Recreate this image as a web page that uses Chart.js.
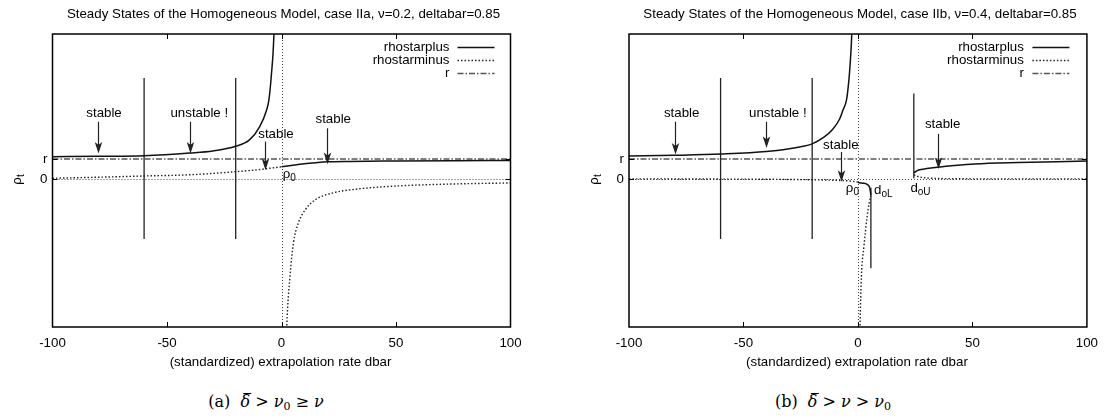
<!DOCTYPE html>
<html lang="en">
<head>
<meta charset="UTF-8">
<title>Steady States of the Homogeneous Model</title>
<script src="https://cdn.jsdelivr.net/npm/chart.js"></script>
<style>
  body {
    margin: 0;
    width: 1106px;
    height: 419px;
    position: relative;
    overflow: hidden;
    background: #fff;
  }
  canvas { position: absolute; top: 0; }
  #chartA { left: 0; }
  #chartB { left: 553px; }
  .caption {
    position: absolute;
    top: 392px;
    line-height: 20px;
    font-family: 'DejaVu Serif', 'Liberation Serif', serif;
    font-size: 16px;
    white-space: nowrap;
    transform: translateX(-50%);
    color: #000;
  }
  .caption sub { font-size: 11px; line-height: 0; vertical-align: -3px; }
  .bar { position: relative; display: inline-block; }
  .bar::after {
    content: '';
    position: absolute;
    left: 3px; right: -1px; top: 1px;
    border-top: 1px solid #000;
  }
</style>
</head>
<body>
  <canvas id="chartA" width="553" height="380"></canvas>
  <canvas id="chartB" width="553" height="380"></canvas>
  <div class="caption" style="left:266px">(a)&nbsp; <i class="bar">δ</i> &gt; <i>ν</i><sub>0</sub> ≥ <i>ν</i></div>
  <div class="caption" style="left:833px">(b)&nbsp; <i class="bar">δ</i> &gt; <i>ν</i> &gt; <i>ν</i><sub>0</sub></div>

<script>
// ---- shared axis data ----
const xTickStep = 50;
const xRange = [-100, 100];
const yRange = [-7.2, 7.1];
const yTickValues = [0, 1];
const yTickLabels = ['0', 'r'];
const legendLabels = ['rhostarplus', 'rhostarminus', 'r'];
const xTitle = '(standardized) extrapolation rate dbar';
const rLine_d = [-100, 100];
const rLine_v = [1, 1];

// ---- case IIa (left) ----
const titleA = 'Steady States of the Homogeneous Model, case IIa, ν=0.2, deltabar=0.85';
const a_plus1_d = [-100, -80, -60, -40, -30, -20, -14, -9.5, -6.5, -5.5, -4.5, -3.3, -3.0];
const a_plus1_v = [1.11, 1.13, 1.16, 1.29, 1.39, 1.62, 1.93, 2.58, 3.39, 3.88, 5.0, 7.1, 8.5];
const a_plus2_d = [0, 5, 10, 15, 20, 30, 50, 75, 100];
const a_plus2_v = [0.62, 0.70, 0.77, 0.82, 0.86, 0.88, 0.90, 0.92, 0.93];
const a_minus1_d = [-100, -80, -60, -40, -20, -10, -5, 0];
const a_minus1_v = [0.06, 0.11, 0.17, 0.23, 0.38, 0.48, 0.55, 0.62];
const a_minus2_d = [2.0, 2.3, 3.7, 5.2, 7.3, 10.3, 14.6, 21.9, 32, 50, 75, 100];
const a_minus2_v = [-8.5, -7.2, -4.74, -3.11, -2.14, -1.49, -1.0, -0.67, -0.48, -0.32, -0.22, -0.17];
const a_mark_d = [-60, -20];
const a_mark_top = [4.95, 4.95];
const a_mark_bot = [-2.9, -2.9];
const a_note_text = ['stable', 'unstable !', 'stable', 'stable'];
const a_note_d = [-77.5, -35.9, -2.4, 22.6];
const a_note_v = [3.24, 3.24, 2.2, 2.92];
const a_arrow_d = [-80, -40, -7.2, 19.8];
const a_arrow_from = [2.82, 2.82, 1.85, 2.5];
const a_arrow_to = [1.36, 1.36, 0.55, 0.84];
const a_sub_base = ['ρ'];
const a_sub_sub = ['0'];
const a_sub_d = [0.5];
const a_sub_v = [0.27];

// ---- case IIb (right) ----
const titleB = 'Steady States of the Homogeneous Model, case IIb, ν=0.4, deltabar=0.85';
const b_plus1_d = [-100, -80, -60, -40, -30, -25, -20, -15, -11, -8, -6.5, -5, -4, -3.5, -2.7, -2.4];
const b_plus1_v = [1.14, 1.18, 1.24, 1.36, 1.5, 1.6, 1.74, 2.05, 2.45, 2.95, 3.4, 3.88, 4.8, 5.5, 7.1, 8.5];
const b_plus2_d = [0, 2, 4, 5.2, 5.65];
const b_plus2_v = [-0.15, -0.18, -0.24, -0.43, -0.76];
const b_plus3_d = [24.4, 26.5, 30, 35, 42, 51, 70, 87, 100];
const b_plus3_v = [0.33, 0.46, 0.53, 0.6, 0.68, 0.76, 0.83, 0.87, 0.9];
const b_minus1_d = [-100, -60, -30, -10, -3, 0];
const b_minus1_v = [0.03, 0.02, 0.0, -0.04, -0.08, -0.13];
const b_minus2_d = [0.7, 0.9, 1.5, 2.6, 4.0, 5.0, 5.6];
const b_minus2_v = [-8.5, -7.2, -4.74, -3.28, -1.81, -1.1, -0.8];
const b_minus3_d = [24.4, 26, 28, 32, 40, 60, 100];
const b_minus3_v = [0.22, 0.15, 0.1, 0.06, 0.04, 0.03, 0.03];
const b_mark_d = [-60, -20, 5.65, 24.4];
const b_mark_top = [4.95, 4.95, -0.4, 4.2];
const b_mark_bot = [-2.9, -2.9, -4.33, 0.06];
const b_note_text = ['stable', 'unstable !', 'stable', 'stable'];
const b_note_d = [-77, -35, -7.5, 37];
const b_note_v = [3.23, 3.23, 1.68, 2.69];
const b_arrow_d = [-80, -40, -7.5, 35];
const b_arrow_from = [2.82, 2.82, 1.34, 2.22];
const b_arrow_to = [1.31, 1.63, -0.02, 0.6];
const b_sub_base = ['ρ', 'd', 'd'];
const b_sub_sub = ['0', 'oL', 'oU'];
const b_sub_d = [-5.3, 7, 22.9];
const b_sub_v = [-0.43, -0.51, -0.43];

// ---- drawing ----
const FONT = '13.3px "Liberation Sans", Arial, sans-serif';
const SUBFONT = '10px "Liberation Sans", Arial, sans-serif';

const seriesStyle = [
  { color: '#111', width: 1.5, dash: [] },              // rhostarplus
  { color: '#222', width: 1.4, dash: [1.5, 2] },        // rhostarminus
  { color: '#555', width: 1.4, dash: [6, 2, 1.5, 2] },  // r
  { color: '#222', width: 1.3, dash: [] }               // marker lines
];

function pts(d, v) { return d.map((x, i) => ({ x: x, y: v[i] })); }

function ds(series, data) {
  const s = seriesStyle[series];
  return {
    series: series, data: data,
    borderColor: s.color, borderWidth: s.width, borderDash: s.dash,
    pointRadius: 0, fill: false,
    cubicInterpolationMode: series === 3 ? 'default' : 'monotone',
    tension: 0
  };
}

function subText(ctx, x, y, base, sub, align) {
  ctx.font = FONT;
  const bw = ctx.measureText(base).width;
  ctx.font = SUBFONT;
  const sw = ctx.measureText(sub).width;
  const sx = align === 'center' ? x - (bw + sw) / 2 : x;
  ctx.textAlign = 'left';
  ctx.textBaseline = 'middle';
  ctx.font = FONT;
  ctx.fillText(base, sx, y);
  ctx.font = SUBFONT;
  ctx.fillText(sub, sx + bw, y + 4);
}

const overlay = {
  id: 'overlay',
  beforeDatasetsDraw(chart) {
    const { ctx, chartArea: a, scales: { x, y } } = chart;
    const x0 = Math.round(x.getPixelForValue(0)) + 0.5;
    const y0 = Math.round(y.getPixelForValue(0)) + 0.5;
    ctx.save();
    ctx.strokeStyle = '#444';
    ctx.lineWidth = 1;
    ctx.setLineDash([1, 2]);
    ctx.beginPath();
    ctx.moveTo(a.left, y0); ctx.lineTo(a.right, y0);
    ctx.moveTo(x0, a.top); ctx.lineTo(x0, a.bottom);
    ctx.stroke();
    ctx.restore();
  },
  afterDatasetsDraw(chart, args, o) {
    const { ctx, chartArea: a, scales: { x, y } } = chart;
    ctx.save();
    ctx.fillStyle = '#000';

    // frame + inner tick marks
    ctx.strokeStyle = '#000';
    ctx.lineWidth = 1.5;
    ctx.strokeRect(a.left, a.top, a.right - a.left, a.bottom - a.top);
    ctx.lineWidth = 1;
    ctx.beginPath();
    x.ticks.forEach(t => {
      if (t.value <= xRange[0] || t.value >= xRange[1]) return;
      const px = Math.round(x.getPixelForValue(t.value)) + 0.5;
      ctx.moveTo(px, a.bottom); ctx.lineTo(px, a.bottom - 5);
      ctx.moveTo(px, a.top); ctx.lineTo(px, a.top + 5);
    });
    yTickValues.forEach(v => {
      const py = Math.round(y.getPixelForValue(v)) + 0.5;
      ctx.moveTo(a.left, py); ctx.lineTo(a.left + 5, py);
      ctx.moveTo(a.right, py); ctx.lineTo(a.right - 5, py);
    });
    ctx.stroke();

    // titles
    ctx.font = FONT;
    ctx.textAlign = 'center';
    ctx.textBaseline = 'middle';
    ctx.fillText(o.title, (a.left + a.right) / 2 + 2, 14);
    ctx.fillText(xTitle, (a.left + a.right) / 2 - 1, 362);
    ctx.save();
    ctx.translate(a.left - 35, y.getPixelForValue(0));
    ctx.rotate(-Math.PI / 2);
    subText(ctx, 0, 0, 'ρ', 't', 'center');
    ctx.restore();

    // legend
    legendLabels.forEach((lab, i) => {
      const s = seriesStyle[i];
      const ly = a.top + 13 + i * 13;
      ctx.font = FONT;
      ctx.textAlign = 'right';
      ctx.textBaseline = 'middle';
      ctx.fillText(lab, a.right - o.legendText, ly);
      ctx.strokeStyle = s.color;
      ctx.lineWidth = s.width;
      ctx.setLineDash(s.dash);
      ctx.beginPath();
      ctx.moveTo(a.right - o.legendLine[0], ly + 0.5);
      ctx.lineTo(a.right - o.legendLine[1], ly + 0.5);
      ctx.stroke();
    });
    ctx.setLineDash([]);

    // notes
    ctx.font = FONT;
    ctx.textAlign = 'center';
    ctx.textBaseline = 'middle';
    o.noteText.forEach((t, i) => {
      ctx.fillText(t, x.getPixelForValue(o.noteD[i]), y.getPixelForValue(o.noteV[i]));
    });

    // arrows
    ctx.strokeStyle = '#222';
    ctx.fillStyle = '#222';
    ctx.lineWidth = 1.2;
    o.arrowD.forEach((d, i) => {
      const px = Math.round(x.getPixelForValue(d)) + 0.5;
      const y0 = y.getPixelForValue(o.arrowFrom[i]);
      const y1 = y.getPixelForValue(o.arrowTo[i]);
      ctx.beginPath();
      ctx.moveTo(px, y0); ctx.lineTo(px, y1 - 5);
      ctx.stroke();
      ctx.beginPath();
      ctx.moveTo(px, y1);
      ctx.lineTo(px - 2.6, y1 - 8);
      ctx.lineTo(px, y1 - 6);
      ctx.lineTo(px + 2.6, y1 - 8);
      ctx.closePath();
      ctx.fill();
      ctx.stroke();
    });

    // subscripted labels
    ctx.fillStyle = '#000';
    o.subBase.forEach((b, i) => {
      subText(ctx, x.getPixelForValue(o.subD[i]), y.getPixelForValue(o.subV[i]), b, o.subSub[i], 'left');
    });
    ctx.restore();
  }
};

function makeChart(id, c) {
  const datasets = [];
  c.plus.forEach(p => datasets.push(ds(0, pts(p[0], p[1]))));
  c.minus.forEach(p => datasets.push(ds(1, pts(p[0], p[1]))));
  datasets.push(ds(2, pts(rLine_d, rLine_v)));
  c.markD.forEach((d, i) => datasets.push(ds(3, [{ x: d, y: c.markTop[i] }, { x: d, y: c.markBot[i] }])));

  return new Chart(document.getElementById(id), {
    type: 'line',
    data: { datasets: datasets },
    plugins: [overlay],
    options: {
      responsive: false,
      animation: false,
      devicePixelRatio: 1,
      layout: { padding: { left: 0, right: c.padRight, top: 34, bottom: 0 } },
      plugins: {
        legend: { display: false },
        tooltip: { enabled: false },
        overlay: {
          title: c.title,
          legendText: c.legendText,
          legendLine: c.legendLine,
          noteText: c.noteText, noteD: c.noteD, noteV: c.noteV,
          arrowD: c.arrowD, arrowFrom: c.arrowFrom, arrowTo: c.arrowTo,
          subBase: c.subBase, subSub: c.subSub, subD: c.subD, subV: c.subV
        }
      },
      scales: {
        x: {
          type: 'linear',
          min: xRange[0], max: xRange[1],
          grid: { display: false, drawTicks: false },
          border: { display: false },
          ticks: {
            stepSize: xTickStep, padding: 8, maxRotation: 0,
            color: '#000', font: { family: '"Liberation Sans", Arial, sans-serif', size: 13.3 }
          },
          afterFit(s) { s.height = 53; }
        },
        y: {
          type: 'linear',
          min: yRange[0], max: yRange[1],
          grid: { display: false, drawTicks: false },
          border: { display: false },
          afterBuildTicks(s) { s.ticks = yTickValues.map(v => ({ value: v })); },
          ticks: {
            padding: 5,
            color: '#000', font: { family: '"Liberation Sans", Arial, sans-serif', size: 13.3 },
            callback: v => yTickLabels[yTickValues.indexOf(v)]
          },
          afterFit(s) { s.width = c.plotLeft; }
        }
      }
    }
  });
}

makeChart('chartA', {
  title: titleA, plotLeft: 52.5, padRight: 42.5,
  legendText: 61, legendLine: [53, 16],
  plus: [[a_plus1_d, a_plus1_v], [a_plus2_d, a_plus2_v]],
  minus: [[a_minus1_d, a_minus1_v], [a_minus2_d, a_minus2_v]],
  markD: a_mark_d, markTop: a_mark_top, markBot: a_mark_bot,
  noteText: a_note_text, noteD: a_note_d, noteV: a_note_v,
  arrowD: a_arrow_d, arrowFrom: a_arrow_from, arrowTo: a_arrow_to,
  subBase: a_sub_base, subSub: a_sub_sub, subD: a_sub_d, subV: a_sub_v
});

makeChart('chartB', {
  title: titleB, plotLeft: 76, padRight: 17,
  legendText: 63, legendLine: [54.5, 17.5],
  plus: [[b_plus1_d, b_plus1_v], [b_plus2_d, b_plus2_v], [b_plus3_d, b_plus3_v]],
  minus: [[b_minus1_d, b_minus1_v], [b_minus2_d, b_minus2_v], [b_minus3_d, b_minus3_v]],
  markD: b_mark_d, markTop: b_mark_top, markBot: b_mark_bot,
  noteText: b_note_text, noteD: b_note_d, noteV: b_note_v,
  arrowD: b_arrow_d, arrowFrom: b_arrow_from, arrowTo: b_arrow_to,
  subBase: b_sub_base, subSub: b_sub_sub, subD: b_sub_d, subV: b_sub_v
});
</script>
</body>
</html>
